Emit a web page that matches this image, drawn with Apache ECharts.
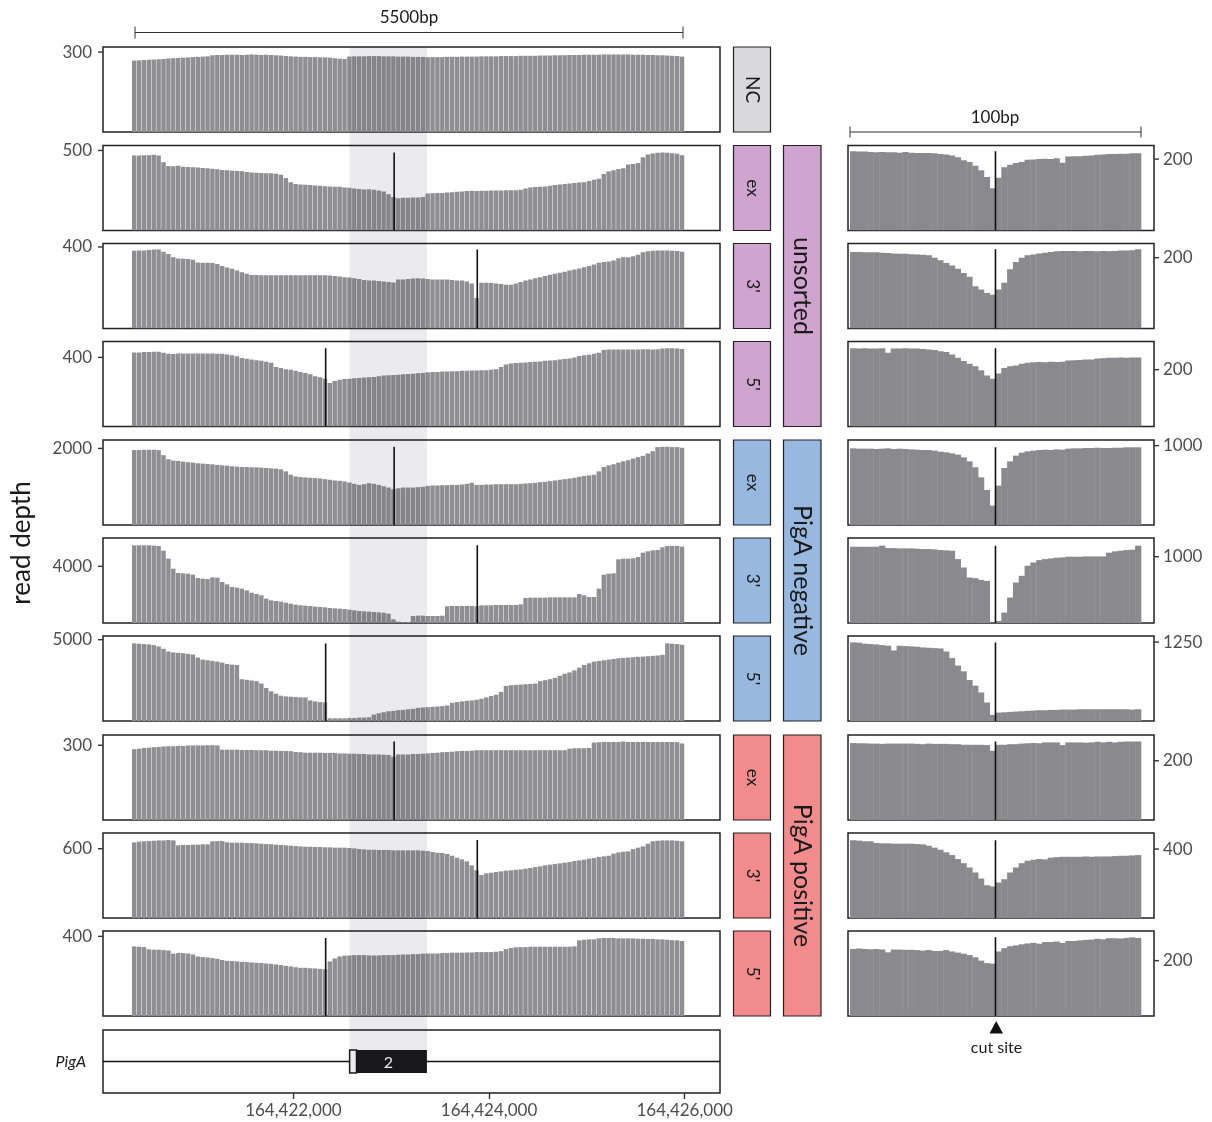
<!DOCTYPE html>
<html><head><meta charset="utf-8">
<script src="https://cdn.jsdelivr.net/npm/echarts@6/dist/echarts.min.js"></script>
<style>html,body{margin:0;padding:0;background:#fff}#c{width:1212px;height:1122px}</style>
</head><body><div id="c"></div>
<script>
const FONT = 'Lato, "Open Sans", "DejaVu Sans", sans-serif';

// ---------- genomic layout values ----------
const X_MIN = 164420054, X_MAX = 164426361;       // left panel x-range (bp)
const BIN_START = 164420350, BIN_SIZE = 50;       // left coverage bins
const R_BIN_SIZE = 2;                             // right (100bp) bins
const R_X_MIN = -0.7, R_X_MAX = 104.5;
const CUT_RIGHT = 50;
const CUT_POS = {'ex': 164423030, "3'": 164423880, "5'": 164422330};
const SHADE = [164422575, 164423365];
const GENE_SPAN = [164420054, 164426361];
const EXON = [164422575, 164422645, 164423365];   // [start, cds start, end]
const EXON_LABEL = '2';
const X_TICKS = [164422000, 164424000, 164426000];

// ---------- rows ----------
const ROW_SAMPLE = ['NC', 'ex', "3'", "5'", 'ex', "3'", "5'", 'ex', "3'", "5'"];
const ROW_GROUP = ['NC', 'unsorted', 'unsorted', 'unsorted', 'PigA negative', 'PigA negative', 'PigA negative', 'PigA positive', 'PigA positive', 'PigA positive'];
const GROUP_COLOR = {'NC': '#d9d9db', 'unsorted': '#cfa4cf', 'PigA negative': '#98b8e0', 'PigA positive': '#f28b8e'};
const LEFT_LABEL = [300, 500, 400, 400, 2000, 4000, 5000, 300, 600, 400];
const LEFT_MAX = [319, 531, 417, 492, 2220, 6000, 5228, 341, 736, 427];
const RIGHT_LABEL = [200, 200, 200, 1000, 1000, 1250, 200, 400, 200];
const RIGHT_MAX = [238, 240, 299, 1071, 1283, 1346, 287, 493, 307];

// ---------- left coverage (50bp bins) ----------
const cov_NC = [268,269,270,271,272,273,274,276,277,278,279,280,281,282,283,284,288,289,289,290,290,290,289,290,291,290,289,290,289,288,287,285,284,283,282,282,281,281,280,280,279,277,275,274,283,284,284,284,285,285,285,284,284,284,283,283,283,282,282,282,281,281,281,281,282,282,282,283,283,283,283,284,284,284,284,285,285,285,285,286,286,286,286,287,287,287,288,288,288,289,289,289,290,290,290,290,291,291,291,291,291,291,290,290,290,289,289,288,288,287,286,285,283];
const cov_uns_ex = [468,468,470,470,473,468,426,403,401,405,399,397,395,393,391,389,386,382,378,376,374,372,370,365,363,361,359,357,357,355,349,328,302,290,288,286,284,281,279,277,275,273,273,269,267,263,260,256,258,254,250,244,227,210,202,204,204,206,206,210,231,233,235,235,237,239,242,244,246,248,246,248,248,250,250,250,252,252,252,254,263,269,271,273,275,279,284,288,290,294,296,300,302,309,317,323,353,368,376,384,389,412,416,422,458,475,481,485,487,485,483,479,470];
const cov_uns_3 = [382,383,383,385,387,387,377,365,350,344,342,341,337,324,322,322,321,316,307,299,293,284,276,268,263,263,261,261,261,261,261,261,261,261,261,261,261,261,261,261,260,258,255,251,250,246,243,238,236,235,233,231,228,226,240,241,243,245,246,245,243,241,241,240,240,238,236,235,230,221,150,225,225,223,221,218,215,215,221,228,235,241,246,251,258,264,268,274,279,284,289,294,301,307,314,322,326,329,334,345,349,350,354,362,374,379,382,383,383,383,382,380,377];
const cov_uns_5 = [429,429,431,431,433,433,427,421,419,423,423,423,423,423,423,423,423,421,421,417,412,406,396,392,388,384,380,375,369,345,338,332,328,322,316,310,302,291,285,277,252,263,271,275,277,279,281,283,285,287,291,295,297,298,300,302,304,306,308,310,314,316,316,318,318,320,320,322,322,324,324,326,326,328,332,345,359,365,367,369,371,373,375,376,380,382,384,388,390,394,400,408,412,416,421,427,443,445,445,445,445,445,445,445,447,447,445,447,451,453,453,451,449];
const cov_neg_ex = [1956,1956,1965,1965,1965,1956,1824,1718,1683,1674,1656,1639,1630,1612,1603,1595,1586,1568,1559,1551,1533,1524,1515,1515,1506,1506,1498,1489,1480,1471,1454,1401,1313,1269,1251,1242,1233,1225,1216,1198,1181,1163,1154,1136,1110,1075,1048,1066,1092,1075,1048,1013,978,934,960,978,978,978,987,996,1022,1031,1031,1040,1040,1048,1048,1057,1075,1101,1048,1048,1057,1057,1066,1066,1066,1066,1066,1075,1084,1092,1101,1119,1128,1145,1163,1181,1198,1216,1233,1260,1278,1295,1313,1401,1515,1559,1586,1630,1665,1692,1736,1771,1806,1868,1929,2035,2044,2044,2035,2035,2017];
const cov_neg_3 = [5482,5482,5482,5482,5459,5435,5106,4541,3835,3530,3506,3482,3412,3177,3129,3106,3224,3200,2894,2729,2541,2494,2424,2306,2141,2047,1953,1718,1600,1553,1506,1435,1365,1294,1247,1224,1200,1153,1129,1106,1059,1035,1012,988,941,894,847,824,800,776,753,729,659,259,94,71,71,494,518,518,494,494,494,518,1177,1200,1200,1200,1200,1200,1177,1247,1247,1247,1271,1271,1271,1271,1271,1318,1765,1788,1788,1788,1788,1812,1812,1812,1812,1812,1812,2047,1953,1835,1835,2424,3412,3482,3506,4494,4541,4541,4565,4659,4965,5059,5129,5153,5341,5435,5435,5435,5388];
const cov_neg_5 = [4773,4752,4731,4710,4669,4586,4441,4275,4212,4192,4171,4129,4088,3901,3777,3735,3694,3652,3590,3507,3465,3445,2573,2532,2490,2449,2303,2034,1826,1681,1556,1515,1494,1473,1453,1453,1266,1204,1162,1141,166,166,166,166,187,187,208,208,228,394,477,540,602,623,664,685,726,747,809,830,851,872,892,913,955,1121,1162,1204,1245,1266,1307,1370,1453,1536,1619,1785,2158,2200,2220,2241,2262,2283,2303,2449,2511,2573,2656,2781,2905,2988,3113,3279,3445,3548,3652,3694,3735,3777,3818,3860,3880,3901,3922,3943,3963,3984,4005,4026,4067,4773,4752,4731,4690];
const cov_pos_ex = [284,286,289,290,292,293,295,296,296,297,297,299,299,299,299,300,300,299,282,282,282,282,281,281,281,280,280,280,278,278,277,277,276,273,272,270,270,270,270,269,269,269,267,267,266,266,265,265,263,263,263,262,261,254,263,263,263,265,265,266,267,269,270,272,273,274,276,277,277,278,280,280,280,280,280,280,280,280,280,280,280,280,280,280,280,280,280,280,280,286,288,288,288,289,311,312,313,313,313,313,315,313,313,313,313,313,313,313,313,313,313,312,307];
const cov_pos_3 = [655,661,664,666,669,672,672,675,672,629,632,632,635,635,638,638,664,666,666,655,652,652,652,649,649,646,643,640,638,635,632,629,626,623,620,617,617,615,615,612,612,609,609,609,606,603,597,594,591,591,589,589,589,586,586,586,586,586,586,583,580,571,565,563,554,539,522,508,490,456,413,372,387,392,398,404,410,413,418,421,427,433,441,447,456,462,467,473,479,485,493,499,505,514,519,528,534,539,557,568,574,577,597,609,620,643,664,669,672,672,672,669,664];
const cov_pos_5 = [350,348,346,335,333,333,331,329,313,316,316,314,309,299,296,294,291,287,281,277,276,274,272,271,269,267,266,264,262,259,256,252,249,245,242,242,240,239,237,235,274,289,299,303,304,306,306,306,304,304,304,306,306,306,308,309,309,311,311,313,314,314,314,316,316,318,318,318,319,319,321,321,321,321,323,326,336,341,345,346,346,348,348,348,348,348,348,348,348,348,350,380,383,385,385,390,392,392,392,390,390,390,390,388,388,387,387,385,385,383,381,380,377];

// ---------- right coverage (2bp bins, 100bp window around cut site) ----------
const zoom_uns_ex = [222,221,221,220,219,220,219,219,218,220,218,217,217,217,216,214,213,210,205,197,192,181,169,150,118,148,177,184,189,192,198,199,200,201,200,202,190,207,208,208,209,210,212,213,214,214,215,215,216,216];
const zoom_uns_3 = [216,216,215,215,215,214,213,212,211,211,210,209,208,207,200,193,185,178,169,157,146,119,110,100,95,110,129,167,188,200,207,209,212,214,216,218,219,219,219,218,219,219,218,219,218,219,220,220,221,224];
const zoom_uns_5 = [275,274,275,274,274,275,259,274,274,275,274,274,273,271,269,265,262,253,242,230,221,212,198,179,168,186,206,212,215,221,224,226,227,226,228,227,228,232,233,234,236,236,239,240,242,242,243,242,243,243];
const zoom_neg_ex = [966,962,962,962,958,962,966,958,962,958,953,949,945,945,937,924,916,903,886,853,802,727,601,441,244,496,718,802,874,911,928,937,945,949,945,953,949,962,966,966,970,970,974,970,970,974,974,979,979,979];
const zoom_neg_3 = [1151,1151,1151,1151,1151,1167,1131,1131,1126,1126,1126,1121,1116,1116,1111,1101,1096,1091,965,838,687,677,651,636,5,30,157,384,611,712,864,914,949,965,975,985,990,1000,1000,1000,1005,1005,1005,1005,1061,1081,1091,1101,1106,1167];
const zoom_neg_5 = [1245,1240,1224,1218,1213,1202,1192,1117,1192,1186,1181,1176,1165,1160,1154,1149,1101,995,878,787,649,559,452,293,96,133,138,144,149,154,160,165,170,170,176,176,181,181,181,186,186,186,186,186,186,186,186,186,181,186];
const zoom_pos_ex = [260,259,259,258,258,257,258,258,258,258,258,257,256,258,257,257,257,256,256,254,254,254,254,253,234,254,254,256,256,258,259,260,259,262,262,262,253,262,262,262,261,262,264,262,264,262,264,265,265,265];
const zoom_pos_3 = [451,449,445,445,435,433,433,431,431,431,431,429,427,419,408,396,381,365,342,318,293,264,229,190,183,206,225,264,293,318,332,338,342,340,350,353,355,355,355,355,357,355,357,357,357,359,361,361,363,365];
const zoom_pos_5 = [242,244,242,241,242,240,230,240,240,239,239,238,236,238,235,235,238,233,229,225,220,212,200,191,189,233,245,252,255,259,262,264,261,267,267,269,264,271,271,273,275,276,279,277,281,281,280,282,284,282];

const LEFT_DATA = [cov_NC, cov_uns_ex, cov_uns_3, cov_uns_5, cov_neg_ex, cov_neg_3, cov_neg_5, cov_pos_ex, cov_pos_3, cov_pos_5];
const RIGHT_DATA = [zoom_uns_ex, zoom_uns_3, zoom_uns_5, zoom_neg_ex, zoom_neg_3, zoom_neg_5, zoom_pos_ex, zoom_pos_3, zoom_pos_5];

// ---------- layout (pixels) ----------
const TOPS = [47, 145.5, 243.5, 341.5, 440, 538, 636, 735, 833, 931];
const PH = 85;
const L_LEFT = 103, L_W = 617, R_LEFT = 848, R_W = 306;
const GENE_TOP = 1030, GENE_H = 63;
const FRAME = {show: true, borderColor: '#222', borderWidth: 1.5, backgroundColor: 'transparent'};
const LABEL_COLOR = '#4d4d4d';
const LEFT_BAR = '#8f8f93', RIGHT_BAR = '#8a8a8e';
const TICK_LEN = 5;

function barRender(binSize, shrink, color) {
  return function (params, api) {
    const x0 = api.value(0), v = api.value(1);
    const a = api.coord([x0, v]);
    const b = api.coord([x0 + binSize, 0]);
    return {type: 'rect', shape: {x: a[0], y: a[1], width: Math.max(0.2, b[0] - a[0] - shrink), height: b[1] - a[1]}, style: {fill: color}};
  };
}
// axis tick drawn through the panel's own scale (side: -1 left edge, +1 right edge)
function tickRender(edgeX, side) {
  return function (params, api) {
    const p = api.coord([edgeX, api.value(0)]);
    return {type: 'line', shape: {x1: p[0], y1: p[1], x2: p[0] + side * TICK_LEN, y2: p[1]}, style: {stroke: '#333', lineWidth: 1.4}};
  };
}

const grids = [], xAxes = [], yAxes = [], series = [];
function gridBox(left, top, width, height, show) {
  return Object.assign({left, top, width, height, containLabel: false, outerBoundsMode: 'none'}, show ? FRAME : {show: false});
}
function yAxisFor(gi, max, label, pos, margin) {
  return {type: 'value', gridIndex: gi, min: 0, max: max, position: pos,
    axisLine: {show: false, onZero: false}, splitLine: {show: false}, axisTick: {show: false},
    axisLabel: {show: true, customValues: [label], formatter: v => String(v), fontFamily: FONT, fontSize: 17, color: LABEL_COLOR, margin: margin}};
}

// left panels
for (let i = 0; i < 10; i++) {
  const gi = grids.length;
  grids.push(gridBox(L_LEFT, TOPS[i], L_W, PH, true));
  xAxes.push({type: 'value', gridIndex: gi, min: X_MIN, max: X_MAX, show: false, axisLine: {onZero: false}});
  yAxes.push(yAxisFor(gi, LEFT_MAX[i], LEFT_LABEL[i], 'left', 11));
  series.push({type: 'custom', xAxisIndex: gi, yAxisIndex: gi, clip: true, z: 2,
    renderItem: barRender(BIN_SIZE, 0.45, LEFT_BAR), encode: {x: 0, y: 1},
    data: LEFT_DATA[i].map((v, k) => [BIN_START + k * BIN_SIZE, v])});
  series.push({type: 'custom', xAxisIndex: gi, yAxisIndex: gi, clip: false, z: 3, silent: true,
    renderItem: tickRender(X_MIN, -1), data: [[LEFT_LABEL[i]]]});
  if (ROW_SAMPLE[i] !== 'NC') {
    const c = CUT_POS[ROW_SAMPLE[i]];
    series.push({type: 'line', xAxisIndex: gi, yAxisIndex: gi, z: 3, symbol: 'none', silent: true,
      lineStyle: {color: '#111', width: 1.6}, data: [[c, 0], [c, Math.max(...LEFT_DATA[i])]]});
  }
}
// right panels
for (let r = 0; r < 9; r++) {
  const gi = grids.length;
  grids.push(gridBox(R_LEFT, TOPS[r + 1], R_W, PH, true));
  xAxes.push({type: 'value', gridIndex: gi, min: R_X_MIN, max: R_X_MAX, show: false, axisLine: {onZero: false}});
  yAxes.push(yAxisFor(gi, RIGHT_MAX[r], RIGHT_LABEL[r], 'right', 9));
  series.push({type: 'custom', xAxisIndex: gi, yAxisIndex: gi, clip: true, z: 2,
    renderItem: barRender(R_BIN_SIZE, -0.4, RIGHT_BAR), encode: {x: 0, y: 1},
    data: RIGHT_DATA[r].map((v, j) => [j * R_BIN_SIZE, v])});
  series.push({type: 'custom', xAxisIndex: gi, yAxisIndex: gi, clip: false, z: 3, silent: true,
    renderItem: tickRender(R_X_MAX, 1), data: [[RIGHT_LABEL[r]]]});
  series.push({type: 'line', xAxisIndex: gi, yAxisIndex: gi, z: 3, symbol: 'none', silent: true,
    lineStyle: {color: '#111', width: 1.6}, data: [[CUT_RIGHT, 0], [CUT_RIGHT, Math.max(...RIGHT_DATA[r])]]});
}
// gene track
{
  const gi = grids.length;
  grids.push(gridBox(L_LEFT, GENE_TOP, L_W, GENE_H, true));
  xAxes.push({type: 'value', gridIndex: gi, min: X_MIN, max: X_MAX, position: 'bottom',
    axisLine: {show: false, onZero: false}, splitLine: {show: false},
    axisTick: {show: true, length: 6, lineStyle: {color: '#333', width: 1.4}, customValues: X_TICKS},
    axisLabel: {show: true, customValues: X_TICKS, fontFamily: FONT, fontSize: 17, color: LABEL_COLOR, margin: 9,
      formatter: v => Number(v).toLocaleString('en-US')}});
  yAxes.push({type: 'value', gridIndex: gi, min: 0, max: 1, axisLine: {show: false, onZero: false}, splitLine: {show: false},
    axisTick: {show: false},
    axisLabel: {show: true, customValues: [0.5], formatter: () => 'PigA', fontFamily: FONT, fontSize: 16, fontStyle: 'italic', color: '#1a1a1a', margin: 17}});
  series.push({type: 'custom', xAxisIndex: gi, yAxisIndex: gi, z: 4, silent: true,
    data: [[EXON[0], EXON[1], EXON[2], GENE_SPAN[0], GENE_SPAN[1]]], encode: {x: [0, 2]},
    renderItem: function (params, api) {
      const s = api.value(0), cds = api.value(1), e = api.value(2);
      const l0 = api.coord([api.value(3), 0.5]), l1 = api.coord([api.value(4), 0.5]);
      const t = api.coord([s, 0.683]), b = api.coord([e, 0.317]);
      const c = api.coord([cds, 0.5]);
      return {type: 'group', children: [
        {type: 'line', shape: {x1: l0[0], y1: l0[1], x2: l1[0], y2: l1[1]}, style: {stroke: '#111', lineWidth: 1.6}},
        {type: 'rect', shape: {x: c[0], y: t[1], width: b[0] - c[0], height: b[1] - t[1]}, style: {fill: '#1a1a1a'}},
        {type: 'rect', shape: {x: t[0], y: t[1], width: c[0] - t[0], height: b[1] - t[1]}, style: {fill: '#fff', stroke: '#1a1a1a', lineWidth: 1.5}},
        {type: 'text', x: (t[0] + b[0]) / 2, y: (t[1] + b[1]) / 2 + 1, style: {text: EXON_LABEL, fill: '#fff', font: '16px ' + FONT, align: 'center', verticalAlign: 'middle'}}
      ]};
    }});
}
// shaded exon overlay spanning all left panels
{
  const gi = grids.length;
  grids.push(gridBox(L_LEFT, TOPS[0], L_W, 1073 - TOPS[0], false));
  xAxes.push({type: 'value', gridIndex: gi, min: X_MIN, max: X_MAX, show: false, axisLine: {onZero: false}});
  yAxes.push({type: 'value', gridIndex: gi, min: 0, max: 1, show: false, axisLine: {onZero: false}});
  series.push({type: 'custom', xAxisIndex: gi, yAxisIndex: gi, z: 10, silent: true,
    data: [[SHADE[0], SHADE[1]]], encode: {x: [0, 1]},
    renderItem: function (params, api) {
      const a = api.coord([api.value(0), 1]), b = api.coord([api.value(1), 0]);
      return {type: 'rect', shape: {x: a[0], y: a[1], width: b[0] - a[0], height: b[1] - a[1]}, style: {fill: 'rgba(15,15,35,0.082)'}};
    }});
}

// ---------- annotations (strips, scale bars, titles) ----------
const graphic = [];
function txt(x, y, text, size, rot) {
  return {type: 'text', x, y, rotation: rot || 0, silent: true,
    style: {text, font: size + 'px ' + FONT, fill: '#1a1a1a', align: 'center', verticalAlign: 'middle'}};
}
for (let i = 0; i < 10; i++) {
  graphic.push({type: 'rect', silent: true, shape: {x: 733.5, y: TOPS[i], width: 37, height: PH},
    style: {fill: GROUP_COLOR[ROW_GROUP[i]], stroke: '#222', lineWidth: 1.2}});
  graphic.push(txt(752, TOPS[i] + PH / 2, ROW_SAMPLE[i], ROW_SAMPLE[i] === 'NC' ? 19 : 17, -Math.PI / 2));
}
const GROUPS = ['unsorted', 'PigA negative', 'PigA positive'];
GROUPS.forEach((g, gi) => {
  const t = TOPS[1 + gi * 3], b = TOPS[3 + gi * 3] + PH;
  graphic.push({type: 'rect', silent: true, shape: {x: 783.5, y: t, width: 37.5, height: b - t},
    style: {fill: GROUP_COLOR[g], stroke: '#222', lineWidth: 1.2}});
  graphic.push(txt(802, (t + b) / 2, g, 25, -Math.PI / 2));
});
// 5500bp scale bar
graphic.push({type: 'line', silent: true, shape: {x1: 135, y1: 32.5, x2: 683, y2: 32.5}, style: {stroke: '#333', lineWidth: 1}});
graphic.push({type: 'line', silent: true, shape: {x1: 135, y1: 26.5, x2: 135, y2: 38.5}, style: {stroke: '#333', lineWidth: 1}});
graphic.push({type: 'line', silent: true, shape: {x1: 683, y1: 26.5, x2: 683, y2: 38.5}, style: {stroke: '#333', lineWidth: 1}});
graphic.push(txt(409, 18, '5500bp', 17));
// 100bp scale bar
graphic.push({type: 'line', silent: true, shape: {x1: 850, y1: 132, x2: 1141, y2: 132}, style: {stroke: '#333', lineWidth: 1}});
graphic.push({type: 'line', silent: true, shape: {x1: 850, y1: 126.5, x2: 850, y2: 137.5}, style: {stroke: '#333', lineWidth: 1}});
graphic.push({type: 'line', silent: true, shape: {x1: 1141, y1: 126.5, x2: 1141, y2: 137.5}, style: {stroke: '#333', lineWidth: 1}});
graphic.push(txt(995, 118, '100bp', 17));
// cut site marker
graphic.push({type: 'polygon', silent: true, shape: {points: [[989.5, 1033.5], [1003, 1033.5], [996.2, 1021]]}, style: {fill: '#111'}});
graphic.push(txt(996.5, 1048, 'cut site', 16));
// y title
graphic.push(txt(22, 543, 'read depth', 26, Math.PI / 2));

const chart = echarts.init(document.getElementById('c'), null, {renderer: 'canvas', width: 1212, height: 1122});
chart.setOption({
  animation: false,
  backgroundColor: '#fff',
  textStyle: {fontFamily: FONT},
  grid: grids, xAxis: xAxes, yAxis: yAxes, series: series, graphic: graphic
});
</script></body></html>
